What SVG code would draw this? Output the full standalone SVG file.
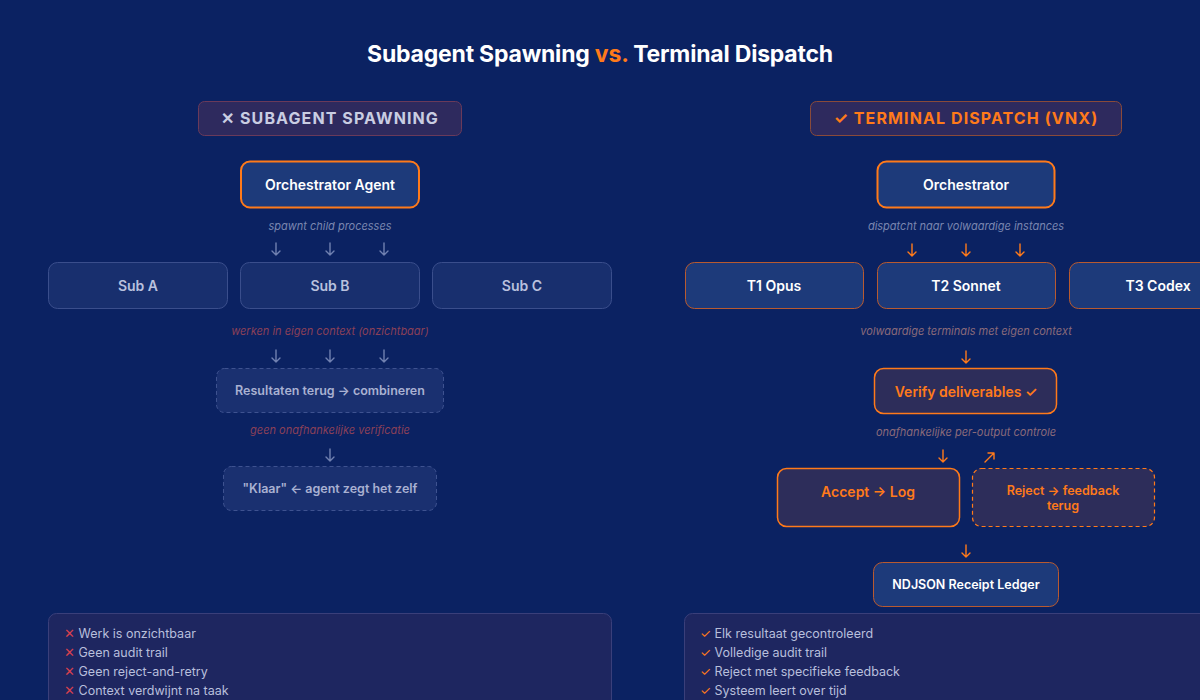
<svg xmlns="http://www.w3.org/2000/svg" width="1200" height="700" viewBox="0 0 1200 700">
<defs>
<style>
text{font-family:Inter,"Noto Sans","Liberation Sans",sans-serif}
.title{font-size:23px;font-weight:700;fill:#ffffff;letter-spacing:-0.2px}
.badge{font-size:16px;font-weight:700;letter-spacing:1.1px}
.node{font-size:14px;font-weight:600}
.small{font-size:12.5px;font-weight:600}
.lbl{font-size:11px;font-style:italic}
.list{font-size:12.5px;fill:#b8bfdc}
.grayArrow{stroke:#7080b0;stroke-width:1.4;fill:none;stroke-linecap:round;stroke-linejoin:round}
.orArrow{stroke:#ff7a1a;stroke-width:1.4;fill:none;stroke-linecap:round;stroke-linejoin:round}
</style>
</defs>
<rect x="0" y="0" width="1200" height="700" fill="#0b2262"/>
<text class="title" x="600" y="62" text-anchor="middle">Subagent Spawning <tspan fill="#ff7a1a">vs.</tspan> Terminal Dispatch</text>

<g id="badge-left">
<rect x="198.5" y="101.5" width="263" height="34" rx="6" fill="#2e2a5e" stroke="#6a3a5a" stroke-width="1"/>
<text class="badge" x="330" y="124" text-anchor="middle" fill="#c9cde2">✕ SUBAGENT SPAWNING</text>
</g>
<g id="badge-right">
<rect x="810.5" y="101.5" width="311" height="34" rx="6" fill="#2e2a5e" stroke="#8a4a3a" stroke-width="1"/>
<text class="badge" x="966" y="124" text-anchor="middle" fill="#ff7a1a">✓ TERMINAL DISPATCH (VNX)</text>
</g>

<g id="orch-agent">
<rect x="241" y="161.5" width="178" height="46" rx="9" fill="#1d3a7a" stroke="#ff7a1a" stroke-width="2"/>
<text class="node" x="330" y="190" text-anchor="middle" fill="#ffffff">Orchestrator Agent</text>
</g>
<g id="orch">
<rect x="877.5" y="161.5" width="177" height="46" rx="9" fill="#1d3a7a" stroke="#ff7a1a" stroke-width="2"/>
<text class="node" x="966" y="190" text-anchor="middle" fill="#ffffff">Orchestrator</text>
</g>

<text class="lbl" x="330" y="230" text-anchor="middle" fill="#7a86b0">spawnt child processes</text>
<text class="lbl" x="966" y="230" text-anchor="middle" fill="#7a86b0">dispatcht naar volwaardige instances</text>

<g id="sub-a"><rect x="48.5" y="262.5" width="179" height="46" rx="9" fill="#182f6e" stroke="#3a4e8c"/><text class="node" x="138" y="291" text-anchor="middle" fill="#b9c1de">Sub A</text></g>
<g id="sub-b"><rect x="240.5" y="262.5" width="179" height="46" rx="9" fill="#182f6e" stroke="#3a4e8c"/><text class="node" x="330" y="291" text-anchor="middle" fill="#b9c1de">Sub B</text></g>
<g id="sub-c"><rect x="432.5" y="262.5" width="179" height="46" rx="9" fill="#182f6e" stroke="#3a4e8c"/><text class="node" x="522" y="291" text-anchor="middle" fill="#b9c1de">Sub C</text></g>

<g id="t1"><rect x="685.5" y="262.5" width="178" height="46" rx="9" fill="#1d3a7a" stroke="#b85a30"/><text class="node" x="774" y="291" text-anchor="middle" fill="#ffffff">T1 Opus</text></g>
<g id="t2"><rect x="877.5" y="262.5" width="178" height="46" rx="9" fill="#1d3a7a" stroke="#b85a30"/><text class="node" x="966" y="291" text-anchor="middle" fill="#ffffff">T2 Sonnet</text></g>
<g id="t3"><rect x="1069.5" y="262.5" width="178" height="46" rx="9" fill="#1d3a7a" stroke="#b85a30"/><text class="node" x="1158" y="291" text-anchor="middle" fill="#ffffff">T3 Codex</text></g>

<text class="lbl" x="330" y="335" text-anchor="middle" fill="#8a4058">werken in eigen context (onzichtbaar)</text>
<text class="lbl" x="966" y="335" text-anchor="middle" fill="#8a6a7a">volwaardige terminals met eigen context</text>

<g id="results">
<rect x="216.5" y="368.5" width="227" height="44" rx="8" fill="#1a3070" stroke="#3e5290" stroke-dasharray="4 3"/>
<text class="small" x="330" y="395" text-anchor="middle" fill="#a9b1d2">Resultaten terug → combineren</text>
</g>
<text class="lbl" x="330" y="434" text-anchor="middle" fill="#8a4058">geen onafhankelijke verificatie</text>
<g id="klaar">
<rect x="223.5" y="466.5" width="213" height="44" rx="8" fill="#1a3070" stroke="#3e5290" stroke-dasharray="4 3"/>
<text class="small" x="330" y="493" text-anchor="middle" fill="#a9b1d2">"Klaar" ← agent zegt het zelf</text>
</g>

<g id="verify">
<rect x="874.5" y="368.5" width="182" height="45" rx="9" fill="#2d2d5a" stroke="#ff7a1a" stroke-width="1.5"/>
<text class="node" x="966" y="397" text-anchor="middle" fill="#ff7a1a">Verify deliverables ✓</text>
</g>
<text class="lbl" x="966" y="436" text-anchor="middle" fill="#8a6a7a">onafhankelijke per-output controle</text>

<g id="accept">
<rect x="777.5" y="468.5" width="182" height="58" rx="9" fill="#2d2d5a" stroke="#ff7a1a" stroke-width="1.5"/>
<text class="node" x="868" y="497" text-anchor="middle" fill="#ff7a1a">Accept → Log</text>
</g>
<g id="reject">
<rect x="972.5" y="468.5" width="182" height="58" rx="9" fill="#2d2d5a" stroke="#ff7a1a" stroke-width="1.2" stroke-dasharray="4 3"/>
<text class="small" x="1063" y="495" text-anchor="middle" fill="#ff7a1a">Reject → feedback</text>
<text class="small" x="1063" y="510" text-anchor="middle" fill="#ff7a1a">terug</text>
</g>

<g id="ledger">
<rect x="873.5" y="562.5" width="185" height="44" rx="9" fill="#1d3a7a" stroke="#b85a30"/>
<text class="small" x="966" y="589" text-anchor="middle" fill="#ffffff">NDJSON Receipt Ledger</text>
</g>

<g id="connectors">
<path class="grayArrow" d="M276 243v12M272 251l4 4 4-4M330 243v12M326 251l4 4 4-4M384 243v12M380 251l4 4 4-4"/>
<path class="grayArrow" d="M276 350v12M272 358l4 4 4-4M330 350v12M326 358l4 4 4-4M384 350v12M380 358l4 4 4-4"/>
<path class="grayArrow" d="M330 449v12M326 457l4 4 4-4"/>
<path class="orArrow" d="M912 244v12M908 252l4 4 4-4M966 244v12M962 252l4 4 4-4M1020 244v12M1016 252l4 4 4-4"/>
<path class="orArrow" d="M966 351v12M962 359l4 4 4-4"/>
<path class="orArrow" d="M943 450v12M939 458l4 4 4-4"/>
<path class="orArrow" d="M985 462l9-9M988 453h6v6"/>
<path class="orArrow" d="M966 545v12M962 553l4 4 4-4"/>
</g>

<g id="panel-left">
<rect x="48.5" y="613.5" width="563" height="100" rx="8" fill="#1e2660" stroke="#3a3f7a"/>
<text class="list" x="64" y="638"><tspan fill="#d8404e">✕</tspan> Werk is onzichtbaar</text>
<text class="list" x="64" y="657"><tspan fill="#d8404e">✕</tspan> Geen audit trail</text>
<text class="list" x="64" y="676"><tspan fill="#d8404e">✕</tspan> Geen reject-and-retry</text>
<text class="list" x="64" y="695"><tspan fill="#d8404e">✕</tspan> Context verdwijnt na taak</text>
</g>
<g id="panel-right">
<rect x="684.5" y="613.5" width="563" height="100" rx="8" fill="#1e2660" stroke="#3a3f7a"/>
<text class="list" x="700" y="638"><tspan fill="#ff7a1a">✓</tspan> Elk resultaat gecontroleerd</text>
<text class="list" x="700" y="657"><tspan fill="#ff7a1a">✓</tspan> Volledige audit trail</text>
<text class="list" x="700" y="676"><tspan fill="#ff7a1a">✓</tspan> Reject met specifieke feedback</text>
<text class="list" x="700" y="695"><tspan fill="#ff7a1a">✓</tspan> Systeem leert over tijd</text>
</g>
</svg>
